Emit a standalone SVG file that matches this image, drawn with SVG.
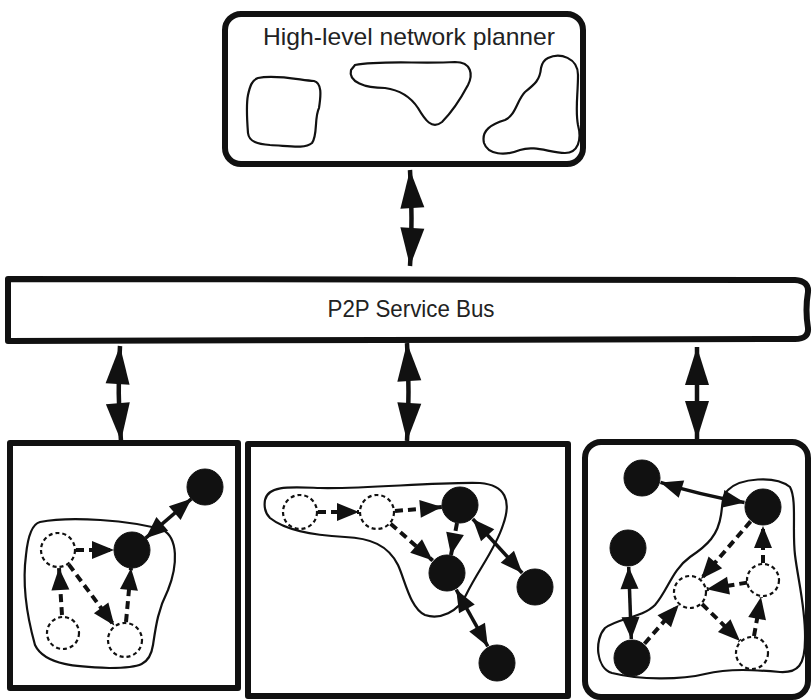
<svg xmlns="http://www.w3.org/2000/svg" width="812" height="700" viewBox="0 0 812 700">
<defs>
<style>
.box{fill:#fff;stroke:#111;stroke-width:6;stroke-linejoin:round}
.blob{fill:none;stroke:#111;stroke-width:2.2}
.lbl{font-family:"Liberation Sans",Arial,sans-serif;font-size:24px;fill:#222;text-anchor:middle}
.solid{fill:#111;stroke:#111;stroke-width:1}
.dash{fill:#fff;stroke:#111;stroke-width:2.2;stroke-dasharray:4 3}
.big{fill:none;stroke:#111;stroke-width:4.5;marker-start:url(#bigH);marker-end:url(#bigH)}
.dbl{fill:none;stroke:#111;stroke-width:3.5;marker-start:url(#smH);marker-end:url(#smH)}
.dsh{fill:none;stroke:#111;stroke-width:4;stroke-dasharray:8 5;marker-end:url(#smH)}
</style>
<marker id="bigH" markerUnits="userSpaceOnUse" markerWidth="38" markerHeight="24" refX="38" refY="12" orient="auto-start-reverse" overflow="visible">
<path d="M0,0 L38,12 L0,24 Z" fill="#111" stroke="none"/>
</marker>
<marker id="smH" markerUnits="userSpaceOnUse" markerWidth="22" markerHeight="18" refX="22" refY="9" orient="auto-start-reverse" overflow="visible">
<path d="M0,0 L22,9 L0,18 Z" fill="#111" stroke="none"/>
</marker>
</defs>

<g id="planner">
<rect class="box" x="225" y="14" width="358" height="150" rx="16"/>
<text class="lbl" x="409" y="45" textLength="292" lengthAdjust="spacingAndGlyphs">High-level network planner</text>
<path class="blob" d="M258,78 C275,74 300,80 314,81 C322,83 321,95 319,108 C314,118 318,135 312,143 C305,149 290,146 270,145 C258,144 249,142 248,133 C247,120 246,105 248,95 C250,86 252,80 258,78 Z"/>
<path class="blob" d="M355,65 C380,60 420,64 455,62 C472,62 473,75 468,85 C460,100 452,112 442,122 C432,130 425,120 418,108 C410,96 400,90 385,88 C365,88 348,82 351,70 Z"/>
<path class="blob" d="M548,58 C560,52 578,58 578,75 C578,95 575,110 578,125 C582,140 578,153 565,153 C550,153 535,145 520,150 C505,156 488,155 484,143 C481,130 492,124 505,120 C516,115 517,100 525,92 C535,84 540,80 541,68 C542,63 544,60 548,58 Z"/>
</g>

<g id="bus">
<path class="box" d="M8,279 L795,280 Q809,281 808,292 Q805,310 808,328 Q809,339 795,339 L8,341 Z"/>
<text class="lbl" x="411" y="317" textLength="167" lengthAdjust="spacingAndGlyphs">P2P Service Bus</text>
</g>

<g id="domain1">
<rect class="box" x="10" y="443" width="228" height="245"/>
<path class="blob" d="M40,522 C70,516 130,520 163,530 C178,538 178,565 168,590 C158,610 156,625 153,645 C150,665 140,668 110,668 C80,667 45,666 35,645 C28,620 22,585 26,555 C28,535 32,524 40,522 Z"/>
<circle class="solid" cx="205" cy="487" r="18"/>
<circle class="solid" cx="132" cy="550" r="18"/>
<circle class="dash" cx="58" cy="550" r="17"/>
<circle class="dash" cx="63" cy="633" r="16"/>
<circle class="dash" cx="125" cy="640" r="17"/>
</g>

<g id="domain2">
<rect class="box" x="248" y="444" width="320" height="252"/>
<path class="blob" d="M265,500 C268,485 290,487 320,488 C370,489 430,482 480,483 C505,485 512,500 503,525 C495,550 478,570 466,595 C458,612 440,620 425,615 C410,608 405,580 398,565 C388,545 370,538 345,537 C310,535 285,530 270,518 C264,512 264,506 265,500 Z"/>
<circle class="dash" cx="300" cy="512" r="17"/>
<circle class="dash" cx="377" cy="512" r="17"/>
<circle class="solid" cx="460" cy="505" r="18"/>
<circle class="solid" cx="447" cy="573" r="18"/>
<circle class="solid" cx="535" cy="587" r="18"/>
<circle class="solid" cx="497" cy="663" r="18"/>
</g>

<g id="domain3">
<rect class="box" x="585" y="442" width="223" height="255" rx="16"/>
<path class="blob" d="M728,490 C740,478 775,475 790,487 C797,500 792,530 795,555 C798,580 806,610 805,640 C805,665 798,673 780,672 C755,670 730,668 705,674 C680,680 640,680 612,673 C596,668 594,640 605,628 C618,618 642,618 655,605 C668,590 672,570 690,557 C708,545 718,535 721,515 C723,502 722,495 728,490 Z"/>
<circle class="solid" cx="642" cy="478" r="18"/>
<circle class="solid" cx="763" cy="507" r="18"/>
<circle class="solid" cx="628" cy="548" r="18"/>
<circle class="solid" cx="632" cy="658" r="18"/>
<circle class="dash" cx="690" cy="592" r="16"/>
<circle class="dash" cx="763" cy="580" r="16"/>
<circle class="dash" cx="752" cy="653" r="16"/>
</g>

<g id="connectors">
<path class="big" d="M410,170 Q413,218 410,266"/>
<path class="big" d="M120,346 Q117,393 121,441"/>
<path class="big" d="M407,343 Q410,392 407,441"/>
<path class="big" d="M697,347 L697,439"/>

<path class="dbl" d="M145.6,538.2 L191.4,498.8"/>
<path class="dsh" d="M76,550 L114,550"/>
<path class="dsh" d="M68.7,564.4 L114.3,625.6"/>
<path class="dsh" d="M62,615 L59,568"/>
<path class="dsh" d="M126,622 L131,568"/>

<path class="dsh" d="M318,512 L359,512"/>
<path class="dsh" d="M395,511 L442,507"/>
<path class="dsh" d="M390.6,523.8 L432.7,560.5"/>
<path class="dsh" d="M457,523 L451,555"/>
<path class="dbl" d="M472.8,519 L522.2,573"/>
<path class="dbl" d="M456.2,589.6 L487.8,646.4"/>

<path class="dbl" d="M660.5,482.4 Q700,495 744.5,502.6"/>
<path class="dsh" d="M750.6,521.4 L701,579"/>
<path class="dsh" d="M747.2,582.6 L706.8,589.2"/>
<path class="dsh" d="M754,636 L761,597"/>
<path class="dsh" d="M763,563 L763,526"/>
<path class="dsh" d="M702,604 L740,641"/>
<path class="dsh" d="M644.5,643.7 L678.8,604.7"/>
<path class="dbl" d="M628.7,567 L631.3,639"/>
</g>
</svg>
